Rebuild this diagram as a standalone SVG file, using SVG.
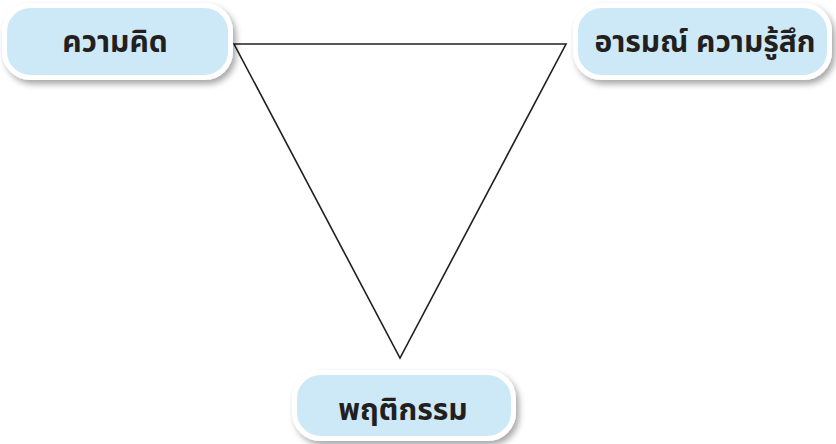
<svg xmlns="http://www.w3.org/2000/svg" width="836" height="444" viewBox="0 0 836 444">
<defs>
<filter id="sh" x="-10%" y="-20%" width="125%" height="150%">
<feDropShadow dx="3" dy="4" stdDeviation="3" flood-color="#000" flood-opacity="0.35"/>
</filter>
<style>
.box{fill:#cde9f8;stroke:#ffffff;stroke-width:5;filter:url(#sh)}
.lbl{font-family:"Noto Sans","Noto Sans Thai","DejaVu Sans",sans-serif;font-weight:bold;font-size:30px;fill:#231f20;text-anchor:middle}
.edge{fill:none;stroke:#231f20;stroke-width:1.6;stroke-linejoin:miter}
</style>
</defs>
<rect width="836" height="444" fill="#ffffff"/>
<g id="connectors">
<path class="edge" d="M234,44 L566,44 L400,358 Z"/>
</g>
<g id="node-thought">
<rect class="box" x="4.5" y="5.5" width="226" height="72" rx="26"/>
<text class="lbl" x="115" y="52">ความคิด</text>
</g>
<g id="node-emotion">
<rect class="box" x="575.5" y="5.5" width="254" height="72" rx="26"/>
<text class="lbl" x="705" y="52">อารมณ์ ความรู้สึก</text>
</g>
<g id="node-behavior">
<rect class="box" x="294.5" y="372.5" width="219" height="66" rx="26"/>
<text class="lbl" x="403" y="420">พฤติกรรม</text>
</g>
</svg>
